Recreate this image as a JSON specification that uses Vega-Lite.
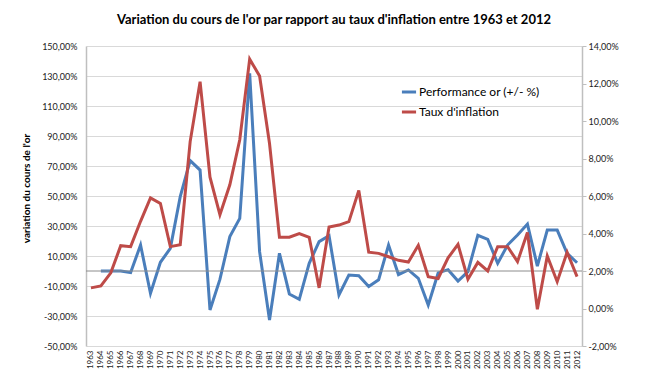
{
  "$schema": "https://vega.github.io/schema/vega-lite/v6.json",
  "width": 496,
  "height": 300,
  "autosize": {"type": "none"},
  "padding": {"left": 86, "top": 46, "right": 88, "bottom": 31},
  "background": "white",
  "config": {"font": "Lato", "view": {"stroke": null}},
  "title": {"text": "Variation du cours de l'or par rapport au taux d'inflation entre 1963 et 2012", "font": "Lato", "fontSize": 13, "fontWeight": "bold", "color": "#000", "offset": 15, "anchor": "middle"},
  "data": {"values": [
    {"year": "1963", "perf": null, "infl": 1.1},
    {"year": "1964", "perf": 0, "infl": 1.2},
    {"year": "1965", "perf": 0, "infl": 1.9},
    {"year": "1966", "perf": 0, "infl": 3.35},
    {"year": "1967", "perf": -1, "infl": 3.3},
    {"year": "1968", "perf": 17.3, "infl": 4.65},
    {"year": "1969", "perf": -14.9, "infl": 5.9},
    {"year": "1970", "perf": 5.8, "infl": 5.6},
    {"year": "1971", "perf": 15.1, "infl": 3.3},
    {"year": "1972", "perf": 49.6, "infl": 3.4},
    {"year": "1973", "perf": 73.6, "infl": 8.9},
    {"year": "1974", "perf": 67.3, "infl": 12.1},
    {"year": "1975", "perf": -26, "infl": 7.0},
    {"year": "1976", "perf": -5.6, "infl": 5.0},
    {"year": "1977", "perf": 22.9, "infl": 6.6},
    {"year": "1978", "perf": 35.1, "infl": 9.0},
    {"year": "1979", "perf": 131.8, "infl": 13.3},
    {"year": "1980", "perf": 12.9, "infl": 12.4},
    {"year": "1981", "perf": -32.7, "infl": 8.8},
    {"year": "1982", "perf": 11.8, "infl": 3.8},
    {"year": "1983", "perf": -15.3, "infl": 3.8},
    {"year": "1984", "perf": -18.9, "infl": 4.0},
    {"year": "1985", "perf": 5.1, "infl": 3.8},
    {"year": "1986", "perf": 19.6, "infl": 1.1},
    {"year": "1987", "perf": 23.5, "infl": 4.35},
    {"year": "1988", "perf": -16, "infl": 4.45},
    {"year": "1989", "perf": -2.7, "infl": 4.63},
    {"year": "1990", "perf": -3.1, "infl": 6.3},
    {"year": "1991", "perf": -10.4, "infl": 3.0},
    {"year": "1992", "perf": -5.8, "infl": 2.94},
    {"year": "1993", "perf": 17.3, "infl": 2.76},
    {"year": "1994", "perf": -2.4, "infl": 2.57},
    {"year": "1995", "perf": 0.7, "infl": 2.48},
    {"year": "1996", "perf": -4.9, "infl": 3.37},
    {"year": "1997", "perf": -22.7, "infl": 1.7},
    {"year": "1998", "perf": -1.3, "infl": 1.6},
    {"year": "1999", "perf": 0.9, "infl": 2.7},
    {"year": "2000", "perf": -6.7, "infl": 3.42},
    {"year": "2001", "perf": -0.4, "infl": 1.56},
    {"year": "2002", "perf": 23.8, "infl": 2.46},
    {"year": "2003", "perf": 21.1, "infl": 2.0},
    {"year": "2004", "perf": 5.1, "infl": 3.3},
    {"year": "2005", "perf": 17.3, "infl": 3.3},
    {"year": "2006", "perf": 24, "infl": 2.5},
    {"year": "2007", "perf": 31.3, "infl": 4.05},
    {"year": "2008", "perf": 3.3, "infl": -0.04},
    {"year": "2009", "perf": 27.3, "infl": 2.8},
    {"year": "2010", "perf": 27.3, "infl": 1.43},
    {"year": "2011", "perf": 11.8, "infl": 3.0},
    {"year": "2012", "perf": 5.5, "infl": 1.7}
  ]},
  "layer": [
    {
      "layer": [
        {
          "mark": {"type": "line", "strokeWidth": 3, "interpolate": "linear"},
          "encoding": {
            "x": {"field": "year", "type": "ordinal", "scale": {"type": "point", "padding": 0.5},
              "axis": {"title": null, "labelAngle": -90, "labelFontSize": 8, "labelColor": "#222", "labelPadding": 4, "domain": false, "ticks": false, "grid": false}},
            "y": {"field": "perf", "type": "quantitative", "scale": {"domain": [-50, 150], "nice": false, "zero": false},
              "axis": {"title": "variation du cours de l'or", "titleFontSize": 10, "titleFontWeight": "bold", "titleColor": "#000", "titlePadding": 10, "titleY": 142,
                "values": [-50, -30, -10, 10, 30, 50, 70, 90, 110, 130, 150],
                "labelExpr": "(datum.value < 0 ? '-' : '') + replace(format(abs(datum.value), '.2f'), '.', ',') + '%'",
                "labelFontSize": 9, "labelColor": "#222", "labelPadding": 9, "ticks": false,
                "domain": true, "domainColor": "#bfbfbf", "domainWidth": 1.5,
                "grid": true, "gridColor": "#d9d9d9", "gridWidth": 1}},
            "color": {"datum": "Performance or (+/- %)", "type": "nominal",
              "scale": {"domain": ["Performance or (+/- %)", "Taux d'inflation"], "range": ["#4a7ebb", "#be4b48"]},
              "legend": {"orient": "none", "legendX": 314, "legendY": 37, "title": null, "symbolType": "stroke", "symbolStrokeWidth": 3, "symbolSize": 200, "labelFontSize": 12, "labelColor": "#000", "labelOffset": 1, "rowPadding": 5}}
          }
        },
        {
          "data": {"values": [{"zero": 0}]},
          "mark": {"type": "rule", "color": "#8c8c8c", "strokeWidth": 1},
          "encoding": {"y": {"field": "zero", "type": "quantitative",
              "axis": {"title": "variation du cours de l'or", "titleFontSize": 10, "titleFontWeight": "bold", "titleColor": "#000", "titlePadding": 10, "titleY": 142,
                "values": [-50, -30, -10, 10, 30, 50, 70, 90, 110, 130, 150],
                "labelExpr": "(datum.value < 0 ? '-' : '') + replace(format(abs(datum.value), '.2f'), '.', ',') + '%'",
                "labelFontSize": 9, "labelColor": "#222", "labelPadding": 9, "ticks": false,
                "domain": true, "domainColor": "#bfbfbf", "domainWidth": 1.5,
                "grid": true, "gridColor": "#d9d9d9", "gridWidth": 1}}}
        }
      ]
    },
    {
      "mark": {"type": "line", "strokeWidth": 3, "interpolate": "linear"},
      "encoding": {
        "x": {"field": "year", "type": "ordinal"},
        "y": {"field": "infl", "type": "quantitative", "scale": {"domain": [-2, 14], "nice": false, "zero": false},
          "axis": {"orient": "right", "title": null, "values": [-2, 0, 2, 4, 6, 8, 10, 12, 14],
            "labelExpr": "(datum.value < 0 ? '-' : '') + replace(format(abs(datum.value), '.2f'), '.', ',') + '%'",
            "labelFontSize": 9, "labelColor": "#222", "labelPadding": 2, "tickSize": 4, "tickColor": "#bfbfbf",
            "domainColor": "#bfbfbf", "domainWidth": 1.5, "grid": false}},
        "color": {"datum": "Taux d'inflation", "type": "nominal"}
      }
    }
  ],
  "resolve": {"scale": {"y": "independent"}}
}
